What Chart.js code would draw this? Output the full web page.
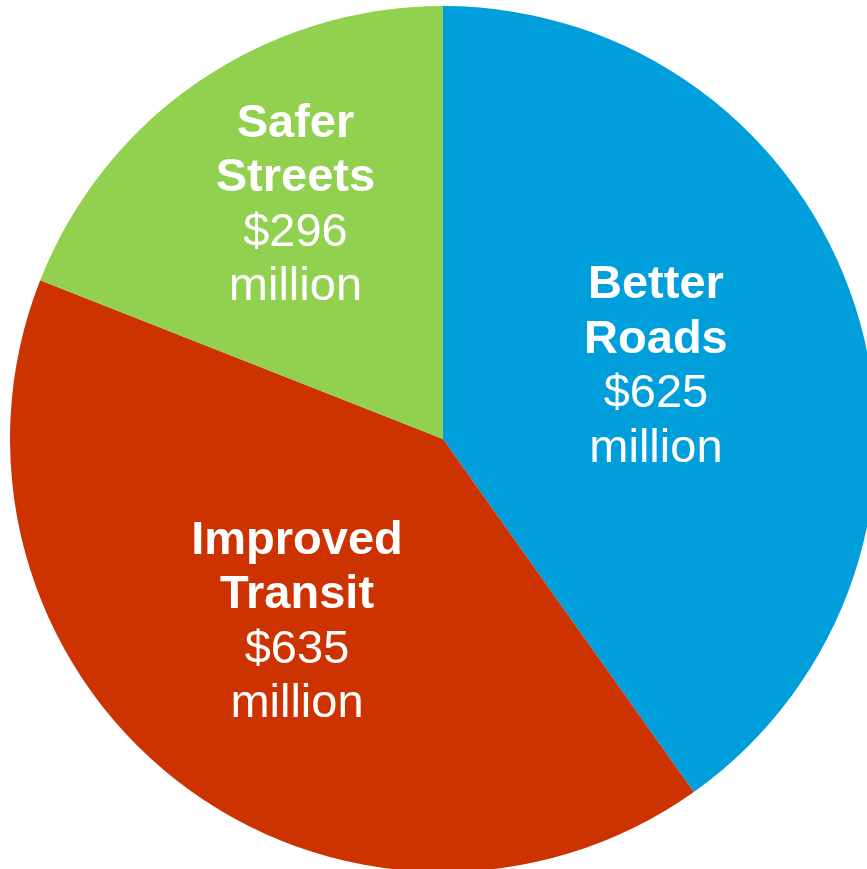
<!DOCTYPE html>
<html>
<head>
<meta charset="utf-8">
<script src="https://cdn.jsdelivr.net/npm/chart.js@4"></script>
<style>
  html, body { margin: 0; padding: 0; background: #fff; overflow: hidden; width: 867px; height: 869px; }
  #wrap { position: absolute; left: 0; top: 0; width: 886px; height: 878px; }
</style>
</head>
<body>
<div id="wrap"><canvas id="pie"></canvas></div>
<script>
// data
var categories = ['Better Roads', 'Improved Transit', 'Safer Streets'];
var nameLines = [['Better', 'Roads'], ['Improved', 'Transit'], ['Safer', 'Streets']];
var amounts = [625, 635, 296];
var colours = ['#009FDB', '#CC3300', '#92D050'];

// where each label sits inside its slice (fraction of radius, angle nudge in degrees)
var labelRadius = [0.522, 0.534, 0.646];
var labelNudge = [-1.9, 1.1, 2.4];

var sliceLabels = {
  id: 'sliceLabels',
  afterDatasetsDraw: function (chart) {
    var ctx = chart.ctx;
    var arcs = chart.getDatasetMeta(0).data;
    ctx.save();
    ctx.fillStyle = '#ffffff';
    ctx.textAlign = 'center';
    ctx.textBaseline = 'alphabetic';
    for (var i = 0; i < arcs.length; i++) {
      var a = arcs[i];
      var mid = (a.startAngle + a.endAngle) / 2 + labelNudge[i] * Math.PI / 180;
      var r = a.outerRadius * labelRadius[i];
      var cx = a.x + Math.cos(mid) * r;
      var cy = a.y + Math.sin(mid) * r;
      var lines = [nameLines[i][0], nameLines[i][1], '$' + amounts[i], 'million'];
      var step = 54.5;
      for (var k = 0; k < lines.length; k++) {
        ctx.font = (k < 2 ? 'bold ' : '') + '47px "Liberation Sans", Arial, sans-serif';
        ctx.fillText(lines[k], cx, cy + (k - 1.5) * step + 17);
      }
    }
    ctx.restore();
  }
};

new Chart(document.getElementById('pie'), {
  type: 'pie',
  data: {
    labels: categories,
    datasets: [{
      data: amounts,
      backgroundColor: colours,
      borderWidth: 0,
      hoverOffset: 0,
      offset: 0
    }]
  },
  options: {
    responsive: true,
    maintainAspectRatio: false,
    animation: false,
    layout: { padding: 6 },
    plugins: {
      legend: { display: false },
      tooltip: { enabled: false }
    }
  },
  plugins: [sliceLabels]
});
</script>
</body>
</html>
